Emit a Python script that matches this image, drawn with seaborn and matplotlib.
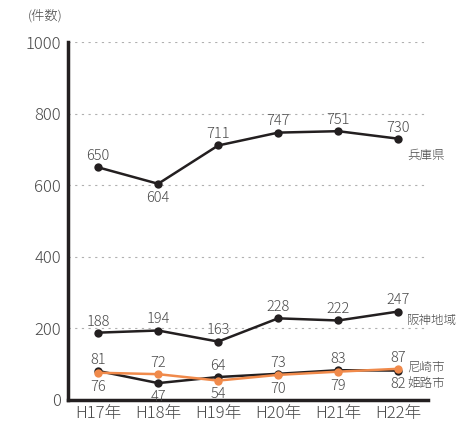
import numpy as np
import pandas as pd
import seaborn as sns
import matplotlib.pyplot as plt

# data
years = ["H17年", "H18年", "H19年", "H20年", "H21年", "H22年"]
hyogo = [650, 604, 711, 747, 751, 730]
hanshin = [188, 194, 163, 228, 222, 247]
amagasaki = [76, 72, 54, 70, 79, 87]
himeji = [81, 47, 64, 73, 83, 82]
series_names = ["兵庫県", "阪神地域", "尼崎市", "姫路市"]
name_y = [684, 223, 92, 47]

sns.set_style("white")
plt.rcParams['font.family'] = ['Noto Sans CJK JP', 'DejaVu Sans']
plt.rcParams['font.weight'] = 'light'

df = pd.DataFrame({"year": years * 4,
                   "value": hyogo + hanshin + amagasaki + himeji,
                   "series": sum([[n] * 6 for n in series_names], [])})

fig = plt.figure(figsize=(4.57, 4.25), dpi=100)
ax = fig.add_axes([0.149, 0.059, 0.788, 0.842])

pal = {"兵庫県": "#231f20", "阪神地域": "#231f20", "尼崎市": "#f08a4b", "姫路市": "#231f20"}
order = ["兵庫県", "阪神地域", "姫路市", "尼崎市"]
for s in order:
    sub = df[df.series == s]
    sns.lineplot(data=sub, x="year", y="value", color=pal[s], marker="o",
                 markersize=6, markeredgewidth=0, linewidth=1.8, ax=ax, sort=False)

txt = "#4a4a4a"
# data labels
for vals, other in [(hyogo, None), (hanshin, None), (amagasaki, himeji), (himeji, amagasaki)]:
    for i, v in enumerate(vals):
        if other is None:
            up = not (i == 1 and vals is hyogo)
        else:
            up = v >= other[i]
        ax.annotate(str(v), (i, v), xytext=(0, 8 if up else -10), textcoords="offset points",
                    ha="center", va="center", fontsize=10.5, color=txt)

for n, y in zip(series_names, name_y):
    ax.text(5.15, y, n, fontsize=9, color=txt, va="center", ha="left", clip_on=False)

ax.set_xlim(-0.5, 5.5)
ax.set_ylim(0, 1000)
ax.set_yticks([0, 200, 400, 600, 800, 1000])
ax.set_xticks(np.arange(6))
ax.set_xticklabels(years)
ax.set_xticks(np.arange(6) + 0.5, minor=True)
ax.tick_params(axis="x", which="major", length=0, labelsize=12, labelcolor=txt, pad=4)
ax.tick_params(axis="x", which="minor", direction="in", length=7, width=2, color="#231f20")
ax.tick_params(axis="y", direction="in", length=8, width=2, color="#231f20", labelsize=12, labelcolor=txt, pad=5)
ax.yaxis.grid(True, linestyle=(0, (2, 4)), color="#b0b0b0", linewidth=0.8)
ax.set_axisbelow(True)
for s in ["top", "right"]:
    ax.spines[s].set_visible(False)
for s in ["left", "bottom"]:
    ax.spines[s].set_linewidth(2.5)
    ax.spines[s].set_color("#231f20")
ax.set_xlabel("")
ax.set_ylabel("")
fig.text(0.06, 0.962, "(件数)", fontsize=9.5, color=txt, va="center")

fig.savefig("out.png", dpi=100)
